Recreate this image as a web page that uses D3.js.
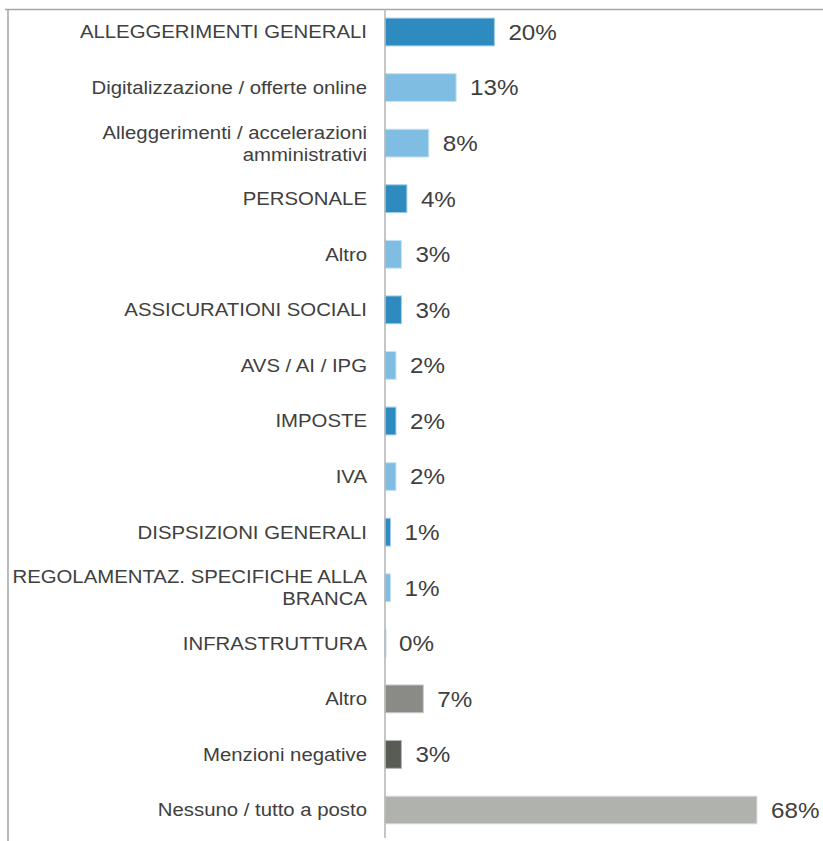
<!DOCTYPE html>
<html>
<head>
<meta charset="utf-8">
<script src="https://cdn.jsdelivr.net/npm/d3@7"></script>
<style>
  html, body { margin: 0; padding: 0; background: #fff; }
  svg { display: block; }
  .cat { font-family: "Liberation Sans", Arial, sans-serif; font-size: 18.5px; fill: #404040; }
  .val { font-family: "Liberation Sans", Arial, sans-serif; font-size: 22px; fill: #404040; }
</style>
</head>
<body>
<svg id="chart" width="823" height="841"></svg>
<script>
// Category labels (line breaks split with "\n")
const categories = [
  "ALLEGGERIMENTI GENERALI",
  "Digitalizzazione / offerte online",
  "Alleggerimenti / accelerazioni\namministrativi",
  "PERSONALE",
  "Altro",
  "ASSICURATIONI SOCIALI",
  "AVS / AI / IPG",
  "IMPOSTE",
  "IVA",
  "DISPSIZIONI GENERALI",
  "REGOLAMENTAZ. SPECIFICHE ALLA\nBRANCA",
  "INFRASTRUTTURA",
  "Altro",
  "Menzioni negative",
  "Nessuno / tutto a posto"
];

// Share of mentions, in percent
const values = [20, 13, 8, 4, 3, 3, 2, 2, 2, 1, 1, 0, 7, 3, 68];

// Group of each row, used for the fill colour
const groups = ["main", "sub", "sub", "main", "sub", "main", "sub", "main", "sub", "main", "sub", "sub", "other", "negative", "none"];

const groupColors = {
  main: "#2e8bc0",
  sub: "#7fbee2",
  other: "#8a8b86",
  negative: "#595b55",
  none: "#b0b2ad"
};
const groupStroke = {
  main: "#9fcbe6",
  sub: "#c4e2f3",
  other: "#c9cac6",
  negative: "#b5b6b2",
  none: "#e2e3e0"
};

const svg = d3.select("#chart");
const W = 823, H = 841;
const stretch = 1.1;   // slightly wide lettering

const x = d3.scaleLinear().domain([0, 68]).range([385, 757]);
const y = d3.scaleBand()
  .domain(d3.range(categories.length))
  .range([4.2, 837.8])
  .paddingInner(0.5)
  .paddingOuter(0.25);

// Frame lines
svg.append("line")
  .attr("x1", 5).attr("x2", W).attr("y1", 9.5).attr("y2", 9.5)
  .attr("stroke", "#a6a6a6").attr("stroke-width", 1.5);
svg.append("line")
  .attr("x1", 8).attr("x2", 8).attr("y1", 9).attr("y2", H)
  .attr("stroke", "#a6a6a6").attr("stroke-width", 1.5);

// Bars
svg.append("g").selectAll("rect")
  .data(values)
  .join("rect")
  .attr("x", x(0))
  .attr("y", (d, i) => y(i))
  .attr("width", d => Math.max(x(d) - x(0), 1))
  .attr("height", y.bandwidth())
  .attr("fill", (d, i) => groupColors[groups[i]])
  .attr("stroke", (d, i) => groupStroke[groups[i]])
  .attr("stroke-width", 1);

// Category axis line
svg.append("line")
  .attr("x1", x(0)).attr("x2", x(0)).attr("y1", 9).attr("y2", 838)
  .attr("stroke", "#b3b3b3").attr("stroke-width", 1.5);

// Category labels
const lineH = 22;
const labelX = 367;
svg.append("g").selectAll("text")
  .data(categories)
  .join("text")
  .attr("class", "cat")
  .attr("text-anchor", "end")
  .attr("transform", `translate(${labelX},0) scale(${stretch},1)`)
  .each(function (d, i) {
    const lines = d.split("\n");
    const cy = y(i) + y.bandwidth() / 2;
    const first = cy - (lines.length - 1) * lineH / 2;
    d3.select(this).selectAll("tspan")
      .data(lines)
      .join("tspan")
      .attr("x", 0)
      .attr("y", (l, k) => first + k * lineH)
      .attr("dy", "0.35em")
      .text(l => l);
  });

// Value labels
svg.append("g").selectAll("text")
  .data(values)
  .join("text")
  .attr("class", "val")
  .attr("transform", (d, i) => `translate(${x(d) + 14},${y(i) + y.bandwidth() / 2}) scale(${stretch},1)`)
  .attr("dy", "0.36em")
  .text(d => d + "%");
</script>
</body>
</html>
